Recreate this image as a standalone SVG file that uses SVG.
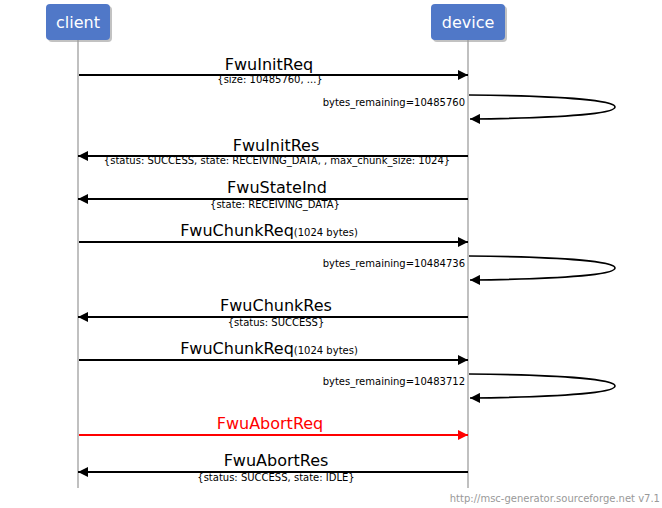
<svg xmlns="http://www.w3.org/2000/svg" width="662" height="508" viewBox="0 0 662 508">
<style>
text{font-family:"DejaVu Sans","Liberation Sans",sans-serif;}
.ent{fill:#5078c8;}
.sh{fill:#999;opacity:0.6;}
.et{fill:#fff;font-size:16px;text-anchor:middle;}
.life{stroke:#c0c0c0;stroke-width:2;fill:none;}
.arr{stroke:#000;stroke-width:2;fill:none;}
.self{stroke:#000;stroke-width:1.6;fill:none;}
.lbl{font-size:16px;text-anchor:middle;fill:#000;}
.sub{font-size:10px;text-anchor:middle;fill:#000;}
.sl{font-size:10px;text-anchor:end;fill:#000;}
.foot{font-size:10px;text-anchor:end;fill:#999;}
</style>
<defs>
<marker id="ah" markerWidth="10" markerHeight="10" refX="10" refY="5" orient="auto" markerUnits="userSpaceOnUse">
<path d="M0,0 L10,5 L0,10 Z" fill="#000"/>
</marker>
<marker id="ahr" markerWidth="10" markerHeight="10" refX="10" refY="5" orient="auto" markerUnits="userSpaceOnUse">
<path d="M0,0 L10,5 L0,10 Z" fill="#f00"/>
</marker>
</defs>
<rect width="662" height="508" fill="#fff"/>
<g id="lifelines">
<line class="life" x1="78" y1="40" x2="78" y2="488"/>
<line class="life" x1="468" y1="40" x2="468" y2="488"/>
</g>
<g id="client">
<rect class="sh" x="48" y="6" width="64" height="36" rx="4"/>
<rect class="ent" x="46" y="4" width="64" height="36" rx="4"/>
<text class="et" x="78" y="28">client</text>
</g>
<g id="device">
<rect class="sh" x="433" y="6" width="74" height="36" rx="4"/>
<rect class="ent" x="431" y="4" width="74" height="36" rx="4"/>
<text class="et" x="468" y="28">device</text>
</g>
<g id="connectors">
<line class="arr" x1="79" y1="75" x2="468" y2="75" marker-end="url(#ah)"/>
<text class="lbl" x="269" y="70">FwuInitReq</text>
<text class="sub" x="270" y="83">{size: 10485760, ...}</text>

<path class="self" d="M469,95 C570,96 615,101 615,107 C615,113 570,118 470,119" marker-end="url(#ah)"/>
<text class="sl" x="465" y="106">bytes_remaining=10485760</text>

<line class="arr" x1="468" y1="156" x2="78" y2="156" marker-end="url(#ah)"/>
<text class="lbl" x="276" y="151">FwuInitRes</text>
<text class="sub" x="277" y="164">{status: SUCCESS, state: RECEIVING_DATA, , max_chunk_size: 1024}</text>

<line class="arr" x1="468" y1="199" x2="78" y2="199" marker-end="url(#ah)"/>
<text class="lbl" x="277" y="193">FwuStateInd</text>
<text class="sub" x="275" y="208">{state: RECEIVING_DATA}</text>

<line class="arr" x1="79" y1="242" x2="468" y2="242" marker-end="url(#ah)"/>
<text class="lbl" x="269" y="236">FwuChunkReq<tspan font-size="10px">(1024 bytes)</tspan></text>

<path class="self" d="M469,256 C570,257 615,262 615,268 C615,274 570,279 470,280" marker-end="url(#ah)"/>
<text class="sl" x="465" y="267">bytes_remaining=10484736</text>

<line class="arr" x1="468" y1="317" x2="78" y2="317" marker-end="url(#ah)"/>
<text class="lbl" x="276" y="311">FwuChunkRes</text>
<text class="sub" x="276" y="326">{status: SUCCESS}</text>

<line class="arr" x1="79" y1="360" x2="468" y2="360" marker-end="url(#ah)"/>
<text class="lbl" x="269" y="354">FwuChunkReq<tspan font-size="10px">(1024 bytes)</tspan></text>

<path class="self" d="M469,374 C570,375 615,380 615,386 C615,392 570,397 470,398" marker-end="url(#ah)"/>
<text class="sl" x="465" y="385">bytes_remaining=10483712</text>

<line x1="79" y1="435" x2="468" y2="435" stroke="#f00" stroke-width="2" marker-end="url(#ahr)"/>
<text class="lbl" x="270" y="429" style="fill:#f00">FwuAbortReq</text>

<line class="arr" x1="468" y1="472" x2="78" y2="472" marker-end="url(#ah)"/>
<text class="lbl" x="276" y="466">FwuAbortRes</text>
<text class="sub" x="276" y="481">{status: SUCCESS, state: IDLE}</text>
</g>
<text class="foot" x="660" y="502">http://msc-generator.sourceforge.net v7.1</text>
</svg>
